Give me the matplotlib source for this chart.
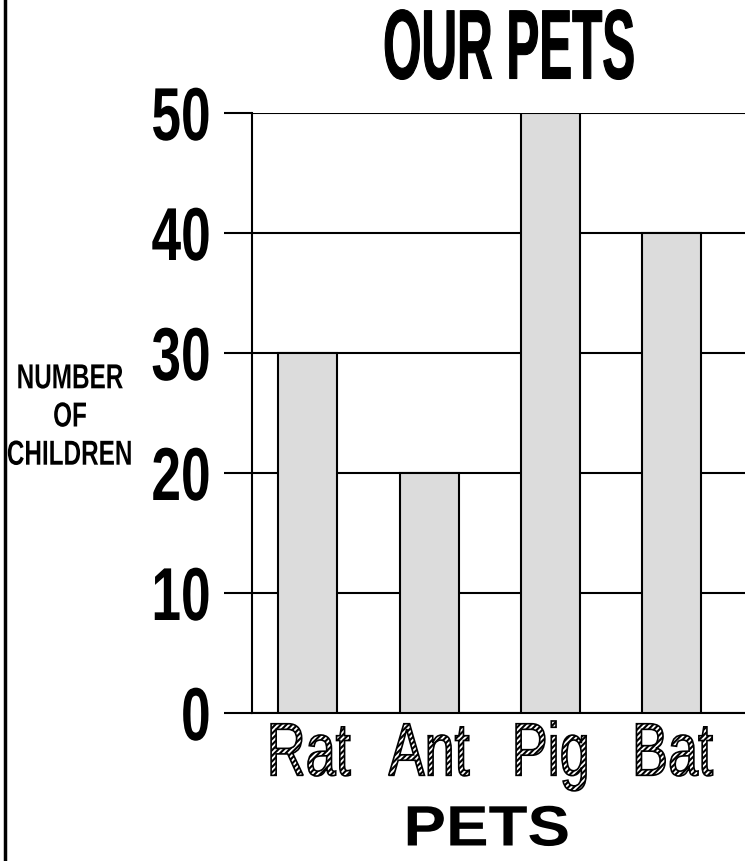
import matplotlib
matplotlib.use('Agg')
import matplotlib.pyplot as plt
import matplotlib.patheffects as pe
from matplotlib.transforms import Affine2D
from matplotlib.lines import Line2D

# data
pets = ['Rat', 'Ant', 'Pig', 'Bat']
children = [30, 20, 50, 40]
y_ticks = [0, 10, 20, 30, 40, 50]

font = 'Liberation Sans'
plt.rcParams['hatch.linewidth'] = 1.5


def squeezed(tpath, affine, sx, anchor):  # scale the text path sideways
    bb = tpath.get_extents(affine)
    cx = bb.x1 if anchor == 'right' else (bb.x0 + bb.x1) / 2
    return affine + Affine2D().translate(-cx, 0).scale(sx, 1).translate(cx, 0)


class Squeeze(pe.AbstractPathEffect):  # narrow font look, no narrow font installed
    def __init__(self, sx, anchor='center', bold=0.0):
        super().__init__()
        self.sx = sx
        self.anchor = anchor
        self.bold = bold

    def draw_path(self, renderer, gc, tpath, affine, rgbFace=None):
        gc0 = renderer.new_gc()
        gc0.copy_properties(gc)
        if self.bold:
            gc0.set_linewidth(self.bold)
            gc0.set_foreground(rgbFace)
            gc0.set_joinstyle('round')
        renderer.draw_path(gc0, tpath, squeezed(tpath, affine, self.sx, self.anchor), rgbFace)
        gc0.restore()


class SqueezeHatch(pe.PathPatchEffect):
    def __init__(self, sx, **kwargs):
        super().__init__(**kwargs)
        self.sx = sx

    def draw_path(self, renderer, gc, tpath, affine, rgbFace=None):
        super().draw_path(renderer, gc, tpath, squeezed(tpath, affine, self.sx, 'center'), rgbFace)


fig = plt.figure(figsize=(7.45, 8.61), dpi=100)
ax = fig.add_axes([252 / 745, 1 - 713 / 861, 1 - 252 / 745, 600 / 861])

x = list(range(len(pets)))
ax.bar(x, children, width=0.486, color='#dcdcdc', edgecolor='black',
       linewidth=1.5, zorder=3)

ax.set_xlim(-0.46, 3.604)
ax.set_ylim(0, 50)
ax.set_yticks(y_ticks)
ax.set_yticklabels([str(v) for v in y_ticks], fontfamily=font,
                   fontweight='bold', fontsize=54)
ax.tick_params(axis='y', length=20, width=1.5, pad=9)
for lab in ax.get_yticklabels():
    lab.set_path_effects([Squeeze(0.71, 'right')])
ax.yaxis.grid(True, color='black', linewidth=1.5, zorder=0)
ax.set_axisbelow(True)

ax.set_xticks(x)
ax.set_xticklabels(pets, fontfamily=font, fontsize=54)
ax.tick_params(axis='x', length=0, pad=6)
for lab in ax.get_xticklabels():
    lab.set_path_effects([SqueezeHatch(0.72, facecolor='white', edgecolor='black',
                                       hatch='//////', linewidth=1.2)])

for s in ['top', 'right']:
    ax.spines[s].set_visible(False)
ax.spines['left'].set_linewidth(1.5)
ax.spines['bottom'].set_linewidth(1.5)

t = fig.text(509 / 745, 1 - 53 / 861, 'OUR PETS', fontfamily=font, fontweight='bold',
             fontsize=71, ha='center', va='center')
t.set_path_effects([Squeeze(0.50, 'center', bold=0.8)])

t = fig.text(487 / 745, 1 - 830.5 / 861, 'PETS', fontfamily=font, fontweight='bold',
             fontsize=41, ha='center', va='center')
t.set_path_effects([Squeeze(1.12, 'center')])

t = fig.text(70 / 745, 1 - 417 / 861, 'NUMBER\nOF\nCHILDREN', fontfamily=font,
             fontweight='bold', fontsize=25, ha='center', va='center',
             multialignment='center', linespacing=1.2)
t.set_path_effects([Squeeze(0.70, 'center')])

# border line on the left
fig.add_artist(Line2D([4.5 / 745, 4.5 / 745], [0, 1], color='black', linewidth=2.5))

fig.savefig('out.png', dpi=100)
